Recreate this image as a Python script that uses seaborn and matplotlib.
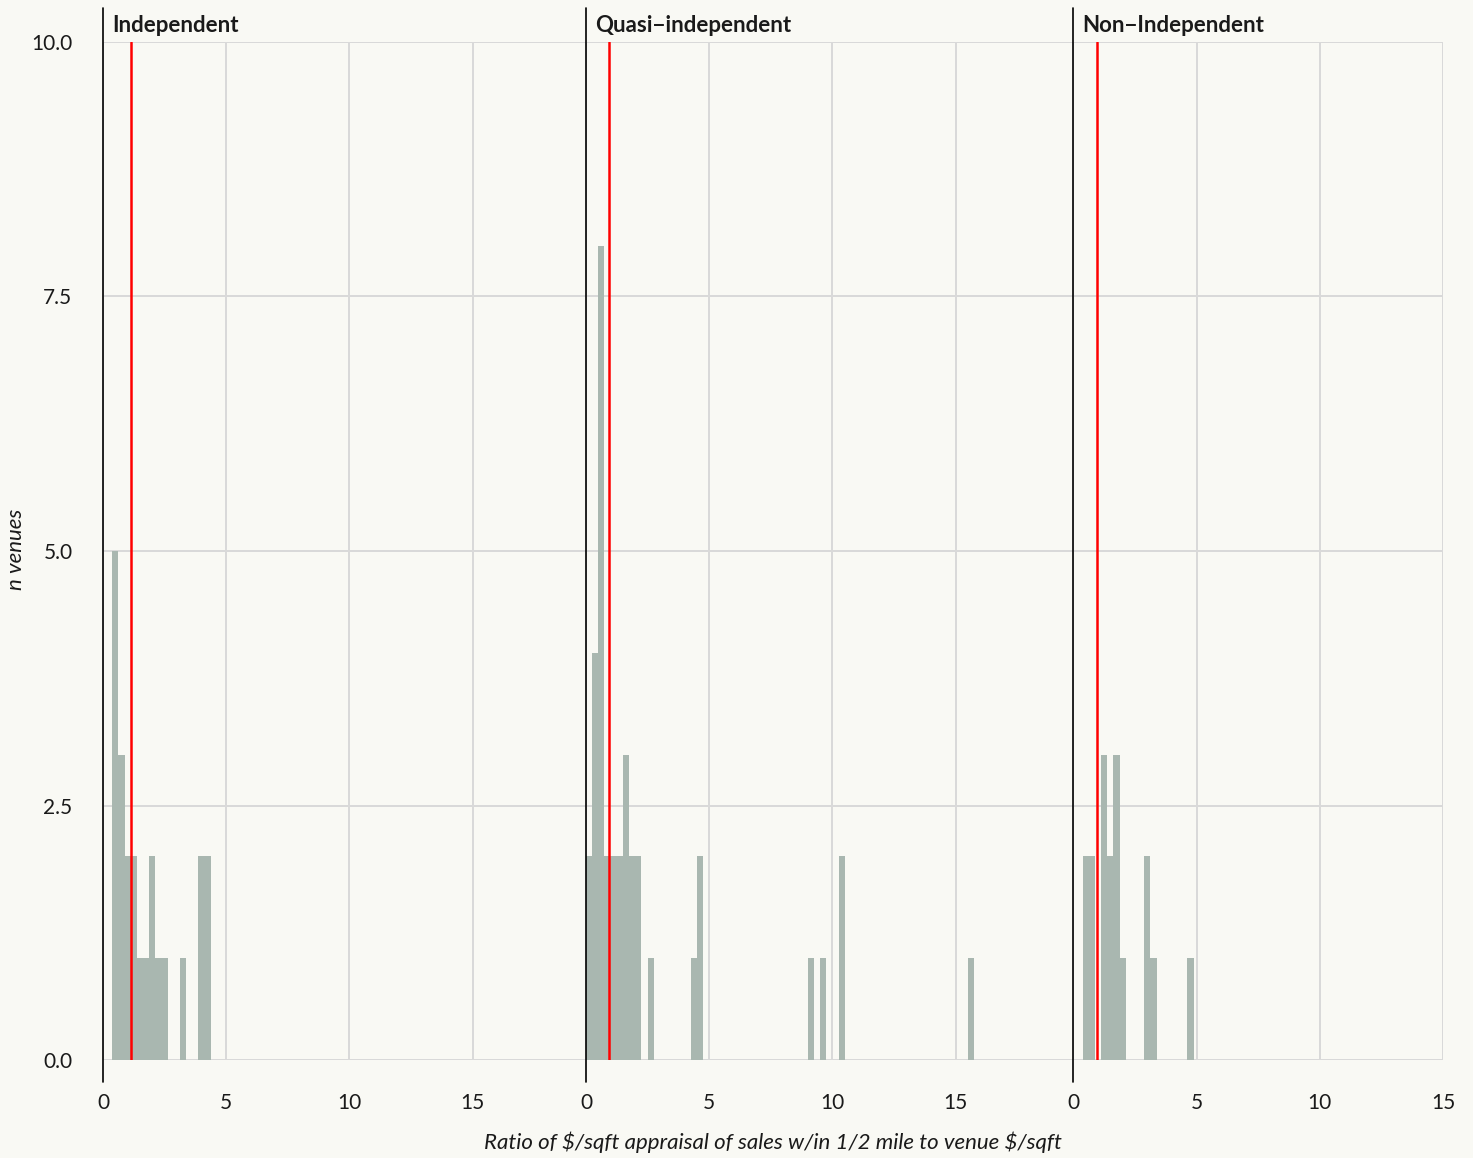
import numpy as np
import pandas as pd
import matplotlib
matplotlib.use("Agg")
import matplotlib.pyplot as plt
import seaborn as sns

# Histogram bins (width 0.25): left edge of each occupied bin and its count
BIN_W = 0.25

ind_left = [0.375, 0.625, 0.875, 1.125, 1.375, 1.625, 1.875, 2.125, 2.375, 3.125, 3.875, 4.125]
ind_count = [5, 3, 2, 2, 1, 1, 2, 1, 1, 1, 2, 2]

quasi_left = [0.0, 0.25, 0.5, 0.75, 1.0, 1.25, 1.5, 1.75, 2.0, 2.5, 4.25, 4.5, 9.0, 9.5, 10.25, 15.5]
quasi_count = [2, 4, 8, 2, 2, 2, 3, 2, 2, 1, 1, 2, 1, 1, 2, 1]

non_left = [0.375, 0.625, 1.125, 1.375, 1.625, 1.875, 2.875, 3.125, 4.625]
non_count = [2, 2, 3, 2, 3, 1, 2, 1, 1]

# Reference ratio marked in red for each group
ref_ratio = [1.13, 0.93, 0.96]

groups = ["Independent", "Quasi\u2212independent", "Non\u2212Independent"]
x_max = [19.6, 19.78, 15.0]
x_ticks = [0, 5, 10, 15]
y_ticks = [0.0, 2.5, 5.0, 7.5, 10.0]
y_ticklabels = ["0.0", "2.5", "5.0", "7.5", "10.0"]

BG = "#f9f9f4"
GRID = "#d9d9d9"
BAR = "#a9b7b0"
TXT = "#1a1a1a"

sns.set_theme(style="white")
plt.rcParams["font.family"] = ["Lato", "DejaVu Sans"]

fig = plt.figure(figsize=(14.73, 11.58), dpi=100, facecolor=BG)
W, H = 1473, 1158
left_px, right_px = 103, 1443
top_px, bottom_px = 42, 1060
gs = fig.add_gridspec(
    1, 3, width_ratios=x_max, wspace=0,
    left=left_px / W, right=right_px / W,
    top=1 - top_px / H, bottom=1 - bottom_px / H,
)

data = [(ind_left, ind_count), (quasi_left, quasi_count), (non_left, non_count)]
axes = []
for i, (lefts, counts) in enumerate(data):
    ax = fig.add_subplot(gs[0, i])
    axes.append(ax)
    ax.set_facecolor(BG)
    start = min(lefts)
    df = pd.DataFrame({"ratio": np.array(lefts, dtype=float) + BIN_W / 2,
                       "n": np.array(counts, dtype=float)})
    sns.histplot(data=df, x="ratio", weights="n", binwidth=BIN_W,
                 binrange=(start, max(lefts) + BIN_W), ax=ax,
                 color=BAR, alpha=1, linewidth=0, zorder=2)
    ax.set_xlim(0, x_max[i])
    ax.set_ylim(0, 10)
    ax.set_xlabel("")
    ax.set_ylabel("")
    for s in ax.spines.values():
        s.set_visible(False)

    ax.set_xticks(x_ticks)
    ax.set_xticklabels([str(t) for t in x_ticks])
    ax.set_yticks(y_ticks)
    ax.grid(True, color=GRID, linewidth=1.4, zorder=0)
    ax.set_axisbelow(True)
    ax.tick_params(axis="x", length=16, width=1.4, color=GRID, pad=8,
                   labelsize=15, labelcolor=TXT)
    if i == 0:
        ax.set_yticklabels(y_ticklabels)
        ax.tick_params(axis="y", length=14, width=1.4, color=GRID, pad=8,
                       labelsize=15, labelcolor=TXT)
    else:
        ax.tick_params(axis="y", length=0, labelleft=False)

    # vertical line at zero, running past the panel edges
    ax.axvline(0, ymin=-0.0216, ymax=1.033, color="black", linewidth=1.2,
               clip_on=False, zorder=4)
    ax.axvline(ref_ratio[i], ymin=0, ymax=1, color="#ff0000", linewidth=1.8,
               zorder=5)

    ax.annotate(groups[i], xy=(0, 1), xycoords="axes fraction",
                xytext=(9, 17), textcoords="offset pixels",
                ha="left", va="center", fontsize=16, fontweight="bold",
                color=TXT)

fig.text((left_px + right_px) / 2 / W, 1 - 1142 / H,
         r"Ratio of \$/sqft appraisal of sales w/in 1/2 mile to venue \$/sqft",
         ha="center", va="center", fontsize=16, fontstyle="italic", color=TXT)
fig.text(16 / W, 1 - 549 / H, "n venues", rotation=90, ha="center",
         va="center", fontsize=16, fontstyle="italic", color=TXT)

fig.savefig("out.png", dpi=100, facecolor=BG)
